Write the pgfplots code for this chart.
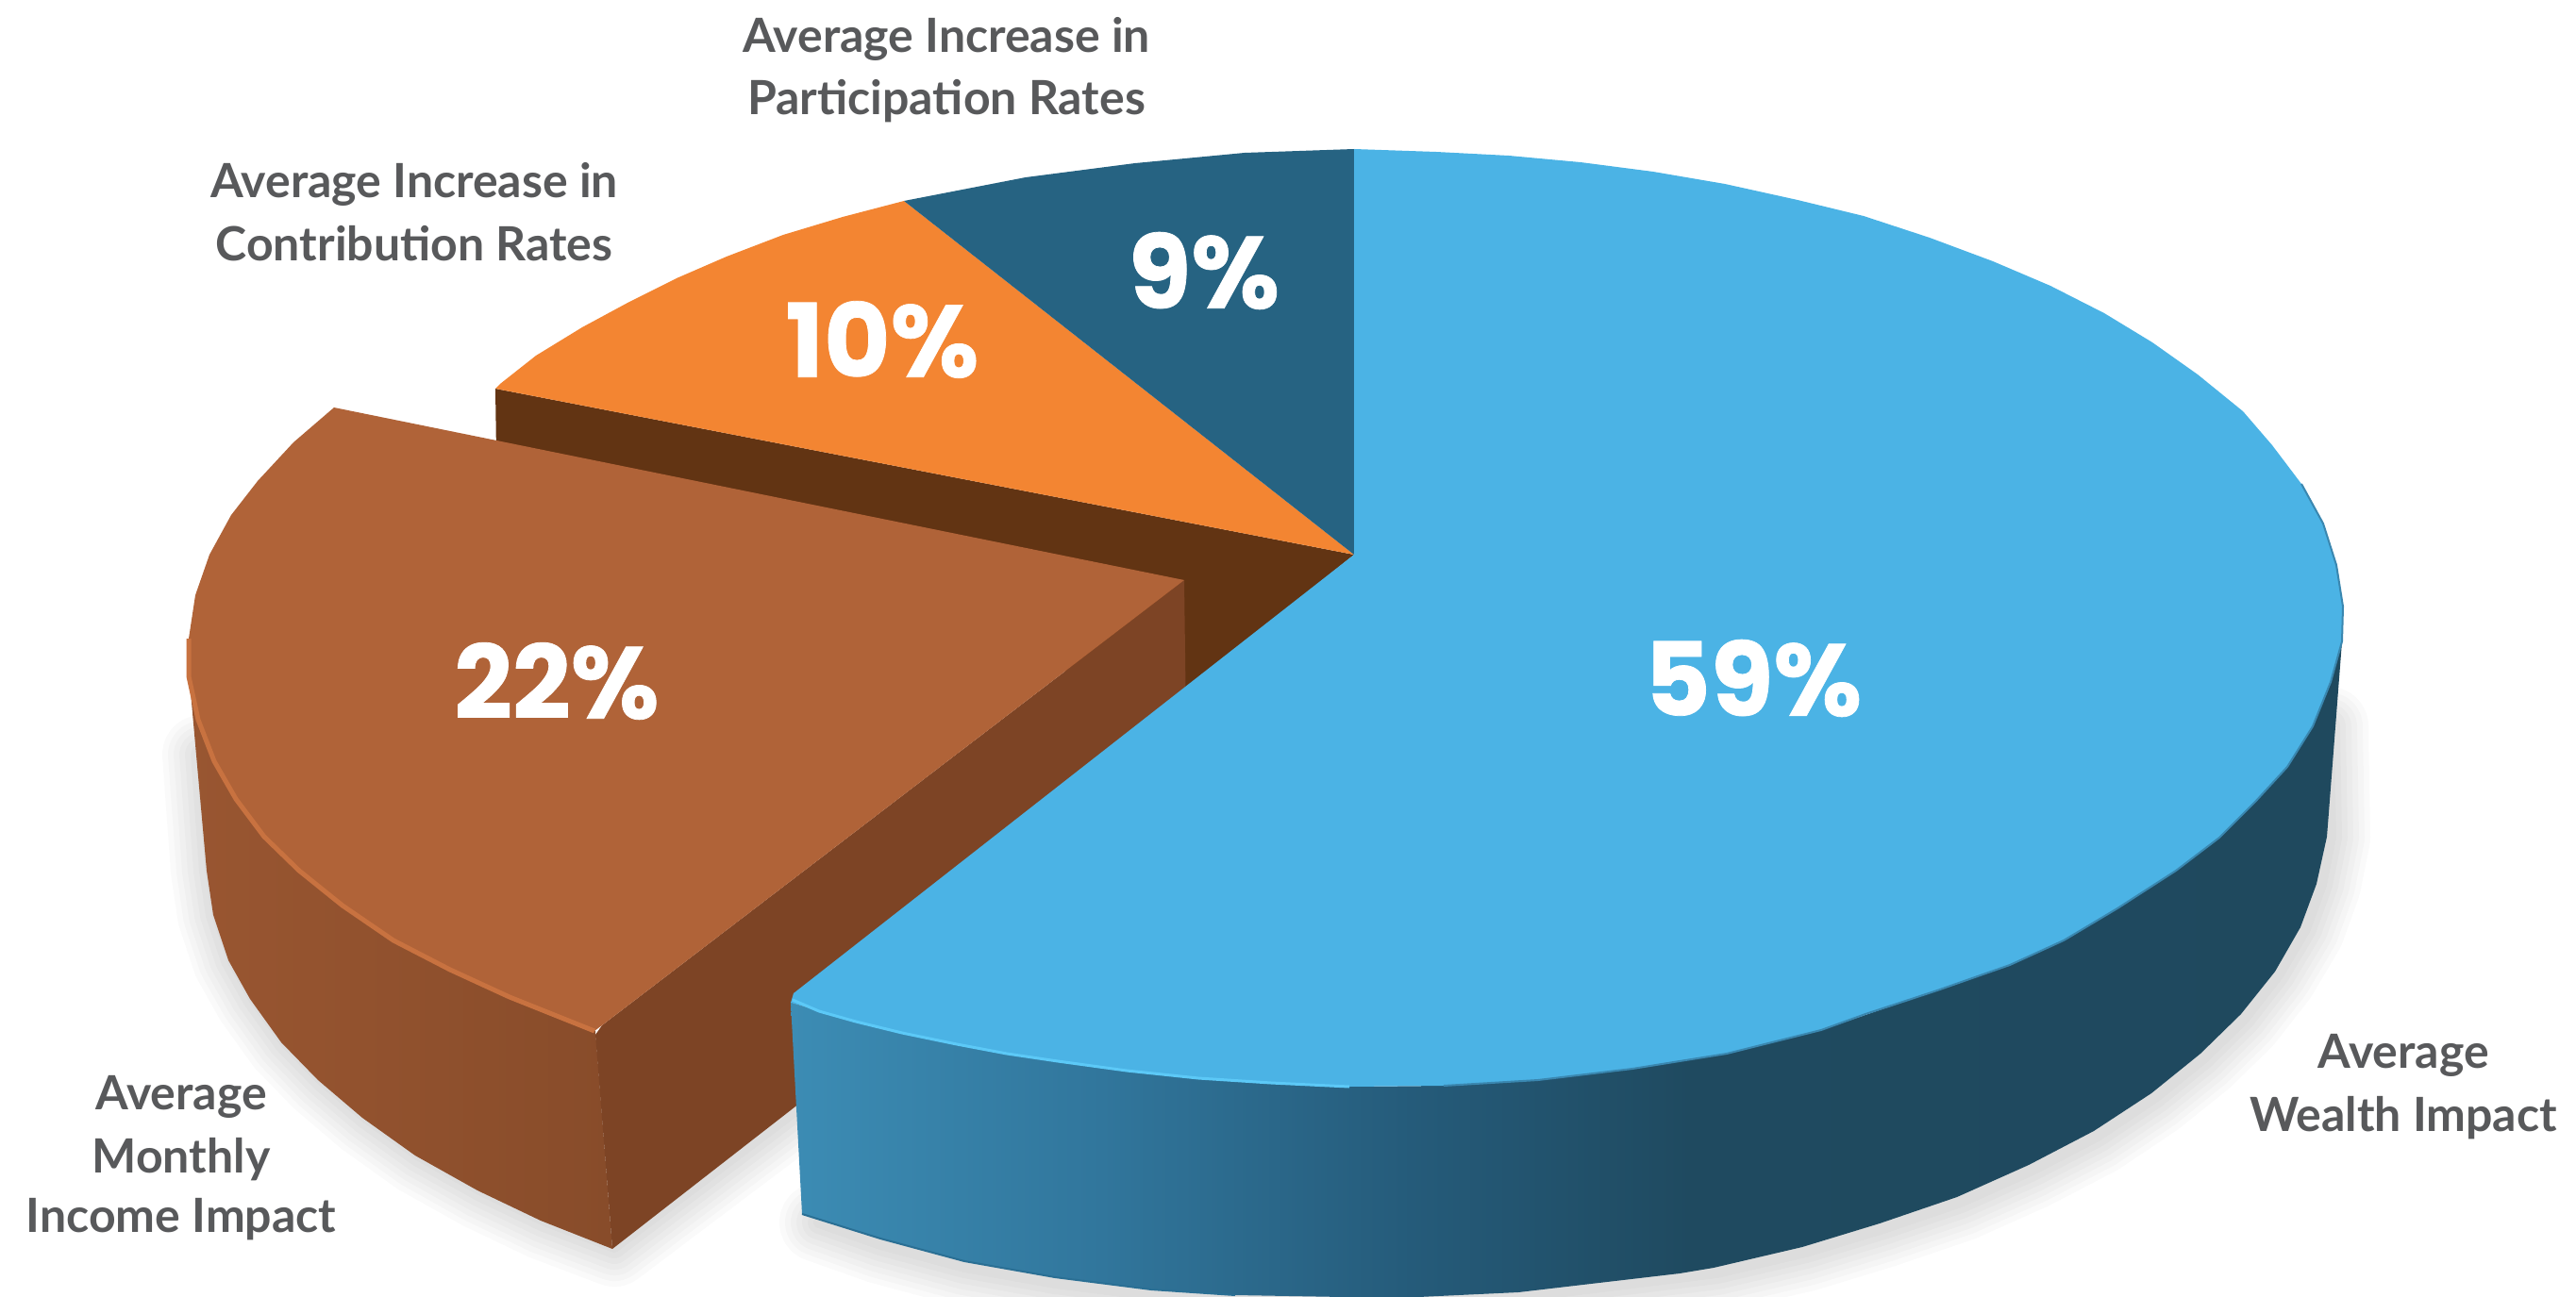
\documentclass[border=0pt]{standalone}
\usepackage{pgfplots}
\usepackage{pgfplotstable}
\usepackage{fontspec}
\pgfplotsset{compat=1.18}
\setmainfont{Lato}
\newfontfamily\numfont[BoldFeatures={FakeBold=0.7}]{Poppins}

\definecolor{blueTop}{HTML}{4BB3E5}
\definecolor{blueRim}{HTML}{5CC9F7}
\definecolor{blueEdge}{HTML}{2A6F94}
\definecolor{blueBlend}{HTML}{3A87B0}
\definecolor{navyTop}{HTML}{266382}
\definecolor{orangeTop}{HTML}{F38532}
\definecolor{orangeCut}{HTML}{623413}
\definecolor{brownTop}{HTML}{B06338}
\definecolor{brownRim}{HTML}{C87240}
\definecolor{brownCut}{HTML}{7D4425}
\definecolor{labelGrey}{HTML}{58595B}

% Outer wall of the large slice, light at the left and dark from the middle on
\pgfdeclarehorizontalshading{blueWall}{100bp}{
  rgb(0bp)=(0.235,0.549,0.706);
  rgb(25bp)=(0.235,0.549,0.706);
  rgb(35bp)=(0.192,0.463,0.612);
  rgb(45bp)=(0.145,0.357,0.478);
  rgb(54bp)=(0.122,0.290,0.376);
  rgb(75bp)=(0.122,0.286,0.369);
  rgb(100bp)=(0.122,0.286,0.369)}
\pgfdeclarehorizontalshading{brownWall}{100bp}{
  rgb(0bp)=(0.600,0.337,0.192);
  rgb(25bp)=(0.600,0.337,0.192);
  rgb(75bp)=(0.533,0.298,0.165);
  rgb(100bp)=(0.533,0.298,0.165)}

% Slice outlines, in pixels of a 2730 x 1375 canvas
\pgfplotstableread{
x y
1435 588
1435 158
1522 161
1599 165
1675 172
1752 182
1828 195
1905 212
1975 229
2045 252
2112 277
2173 303
2230 332
2281 363
2329 397
2377 436
2408 472
2439 513
2462 555
2476 599
2483 643
2482 680
2470 723
2451 770
2424 813
2390 850
2352 888
2306 923
2244 963
2187 997
2130 1023
2053 1050
1977 1075
1930 1092
1830 1117
1730 1133
1630 1145
1530 1151
1430 1152
1347 1148
1270 1143
1194 1135
1121 1125
1067 1117
1014 1107
956 1095
907 1083
868 1072
838 1063
841 1053
}\blueFace

\pgfplotstableread{
x y
2483 643
2482 680
2466 887
2455 937
2438 983
2411 1030
2375 1075
2332 1117
2280 1159
2219 1199
2150 1235
2074 1269
1992 1297
1910 1322
1816 1344
1780 1350
1609 1370
1482 1376
1309 1373
1220 1367
1118 1354
1022 1337
933 1313
850 1287
838 1063
868 1072
956 1095
1067 1117
1194 1135
1347 1148
1430 1152
1530 1151
1730 1133
1930 1092
2053 1050
2187 997
2306 923
2390 850
2451 770
2470 723
}\blueWallEdge

\pgfplotstableread{
x y
1435 588
1435 158
1319 162
1203 173
1087 188
958 213
}\navyFace

\pgfplotstableread{
x y
1435 588
958 213
893 230
830 249
770 272
717 295
667 320
617 347
568 377
530 407
525 412
}\orangeFace

\pgfplotstableread{
x y
525 412
1435 588
1258 730
528 620
}\orangeWall

\pgfplotstableread{
x y
1255 615
354 432
311 469
273 510
245 546
222 588
207 631
200 677
200 717
210 763
227 807
250 847
280 887
317 923
363 960
417 997
477 1028
540 1057
590 1077
630 1093
638 1087
}\brownFace

\pgfplotstableread{
x y
199 700
219 923
226 970
242 1018
265 1059
298 1105
337 1145
384 1185
440 1225
506 1262
573 1294
649 1324
631 1093
590 1077
540 1057
477 1028
417 997
363 960
317 923
280 887
250 847
227 807
210 763
}\brownWallEdge

\pgfplotstableread{
x y
638 1087
1255 615
1258 850
649 1324
631 1097
}\brownCutFace

% Rim highlights and edge lines
\pgfplotstableread{
x y
200 677
200 717
210 763
227 807
250 847
280 887
317 923
363 960
417 997
477 1028
540 1057
590 1077
630 1093
}\brownRimLine

\pgfplotstableread{
x y
840 1060
868 1072
907 1083
956 1095
1014 1107
1067 1117
1121 1125
1194 1135
1270 1143
1347 1148
1430 1152
}\blueRimLine

\pgfplotstableread{
x y
850 1287
933 1313
1022 1337
1118 1354
1220 1367
1309 1373
}\blueFoot

\pgfplotstableread{
x y
2439 513
2462 555
2476 599
2483 643
2482 680
2470 723
2451 770
2424 813
2390 850
2352 888
2306 923
2244 963
2187 997
2130 1023
2053 1050
1977 1075
1930 1092
1830 1117
1730 1133
1630 1145
1530 1151
}\blueRightEdge

% Paths that carry the soft ground shadow
\pgfplotstableread{
x y
2468 770
2470 888
2460 938
2443 985
2414 1034
2378 1080
2335 1122
2284 1163
2223 1204
2154 1240
2078 1274
1996 1302
1914 1327
1820 1349
1609 1375
1482 1382
1309 1379
1220 1373
1118 1360
1022 1343
933 1319
868 1296
}\shadowBlue

\pgfplotstableread{
x y
214 800
223 923
230 970
246 1018
269 1059
302 1105
341 1145
388 1185
444 1225
510 1262
577 1294
651 1322
850 1172
}\shadowBrown

\begin{document}
\begin{tikzpicture}
\useasboundingbox (0,0) rectangle (1365pt,687.5pt);
\begin{axis}[
  at={(0,0)}, anchor=south west,
  scale only axis,
  width=1365pt, height=687.5pt,
  xmin=0, xmax=2730, ymin=0, ymax=1375,
  y dir=reverse,
  hide axis,
  clip=true,
  every node/.append style={inner sep=0pt, outer sep=0pt},
]
  % ground shadow built from stacked faint strokes
  \pgfplotsinvokeforeach{6,12,18,24,30,36,42}{
    \addplot[draw=black, opacity=0.02, line width=#1pt, line join=round, line cap=round, mark=none] table {\shadowBrown};
    \addplot[draw=black, opacity=0.02, line width=#1pt, line join=round, line cap=round, mark=none] table {\shadowBlue};
  }

  % back slices
  \addplot[fill=orangeCut, draw=none, mark=none] table {\orangeWall} -- cycle;
  \addplot[fill=orangeTop, draw=none, mark=none] table {\orangeFace} -- cycle;
  \addplot[fill=navyTop, draw=none, mark=none] table {\navyFace} -- cycle;

  % pulled-out slice
  \addplot[shading=brownWall, draw=none, mark=none] table {\brownWallEdge} -- cycle;
  \addplot[fill=brownCut, draw=none, mark=none] table {\brownCutFace} -- cycle;
  \addplot[fill=brownTop, draw=none, mark=none] table {\brownFace} -- cycle;
  \addplot[draw=brownRim, line width=2.5pt, line join=round, mark=none] table {\brownRimLine};

  % large slice
  \addplot[shading=blueWall, draw=none, mark=none] table {\blueWallEdge} -- cycle;
  \addplot[draw=blueEdge, line width=1pt, line join=round, mark=none] table {\blueFoot};
  \addplot[fill=blueTop, draw=none, mark=none] table {\blueFace} -- cycle;
  \addplot[draw=blueRim, line width=1.5pt, line join=round, mark=none] table {\blueRimLine};
  \addplot[draw=blueBlend, line width=1pt, line join=round, mark=none] table {\blueRightEdge};

  % values
  \node[text=white] at (axis cs:1858,719) {\fontsize{54}{54}\numfont\bfseries 59\%};
  \node[text=white] at (axis cs:590,722)  {\fontsize{54}{54}\numfont\bfseries 22\%};
  \node[text=white] at (axis cs:935,360)  {\fontsize{54}{54}\numfont\bfseries 10\%};
  \node[text=white] at (axis cs:1276,287) {\fontsize{54}{54}\numfont\bfseries 9\%};

  % slice names
  \node[text=labelGrey] at (axis cs:1003,41)   {\fontsize{25}{25}\selectfont\bfseries Average Increase in};
  \node[text=labelGrey] at (axis cs:1003,107)  {\fontsize{25}{25}\selectfont\bfseries Participation Rates};
  \node[text=labelGrey] at (axis cs:439,195)   {\fontsize{25}{25}\selectfont\bfseries Average Increase in};
  \node[text=labelGrey] at (axis cs:439,258)   {\fontsize{25}{25}\selectfont\bfseries Contribution Rates};
  \node[text=labelGrey] at (axis cs:192,1163)  {\fontsize{25}{25}\selectfont\bfseries Average};
  \node[text=labelGrey] at (axis cs:192,1229)  {\fontsize{25}{25}\selectfont\bfseries Monthly};
  \node[text=labelGrey] at (axis cs:192,1293)  {\fontsize{25}{25}\selectfont\bfseries Income Impact};
  \node[text=labelGrey] at (axis cs:2547,1119) {\fontsize{25}{25}\selectfont\bfseries Average};
  \node[text=labelGrey] at (axis cs:2547,1185) {\fontsize{25}{25}\selectfont\bfseries Wealth Impact};
\end{axis}
\end{tikzpicture}
\end{document}
